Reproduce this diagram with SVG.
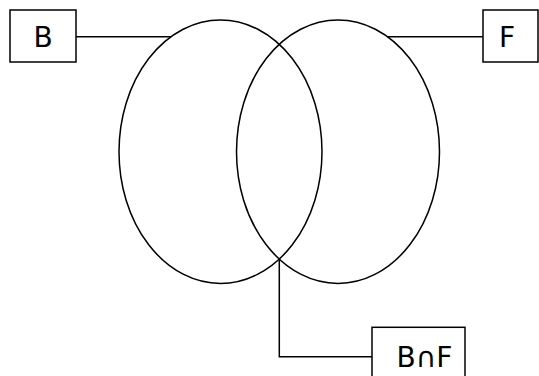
<svg xmlns="http://www.w3.org/2000/svg" width="539" height="376" viewBox="0 0 539 376">
<style>
.shape{fill:none;stroke:#000;stroke-width:1.5}
.box{fill:#fff;stroke:#000;stroke-width:1.5}
.lbl{font-family:"DejaVu Sans",sans-serif;font-size:28px;fill:#000}
</style>
<rect width="539" height="376" fill="#fff"/>
<g id="ellipses">
<ellipse id="setB" class="shape" cx="220.5" cy="151.7" rx="101.5" ry="131.7"/>
<ellipse id="setF" class="shape" cx="338" cy="151.7" rx="101.5" ry="131.7"/>
</g>
<g id="connectors">
<path class="shape" d="M76 36.7 H171.3"/>
<path class="shape" d="M387.2 36.7 H483"/>
<path class="shape" d="M279.3 259 V356.7 H372"/>
</g>
<g id="nodeB">
<rect class="box" x="10" y="10" width="66" height="52"/>
<text class="lbl" x="43" y="47" text-anchor="middle">B</text>
</g>
<g id="nodeF">
<rect class="box" x="483" y="10" width="55" height="52"/>
<text class="lbl" x="507" y="47" text-anchor="middle">F</text>
</g>
<g id="nodeBF">
<rect class="box" x="372" y="327.3" width="93" height="52"/>
<text class="lbl" x="424.5" y="367" text-anchor="middle">B∩F</text>
</g>
</svg>
